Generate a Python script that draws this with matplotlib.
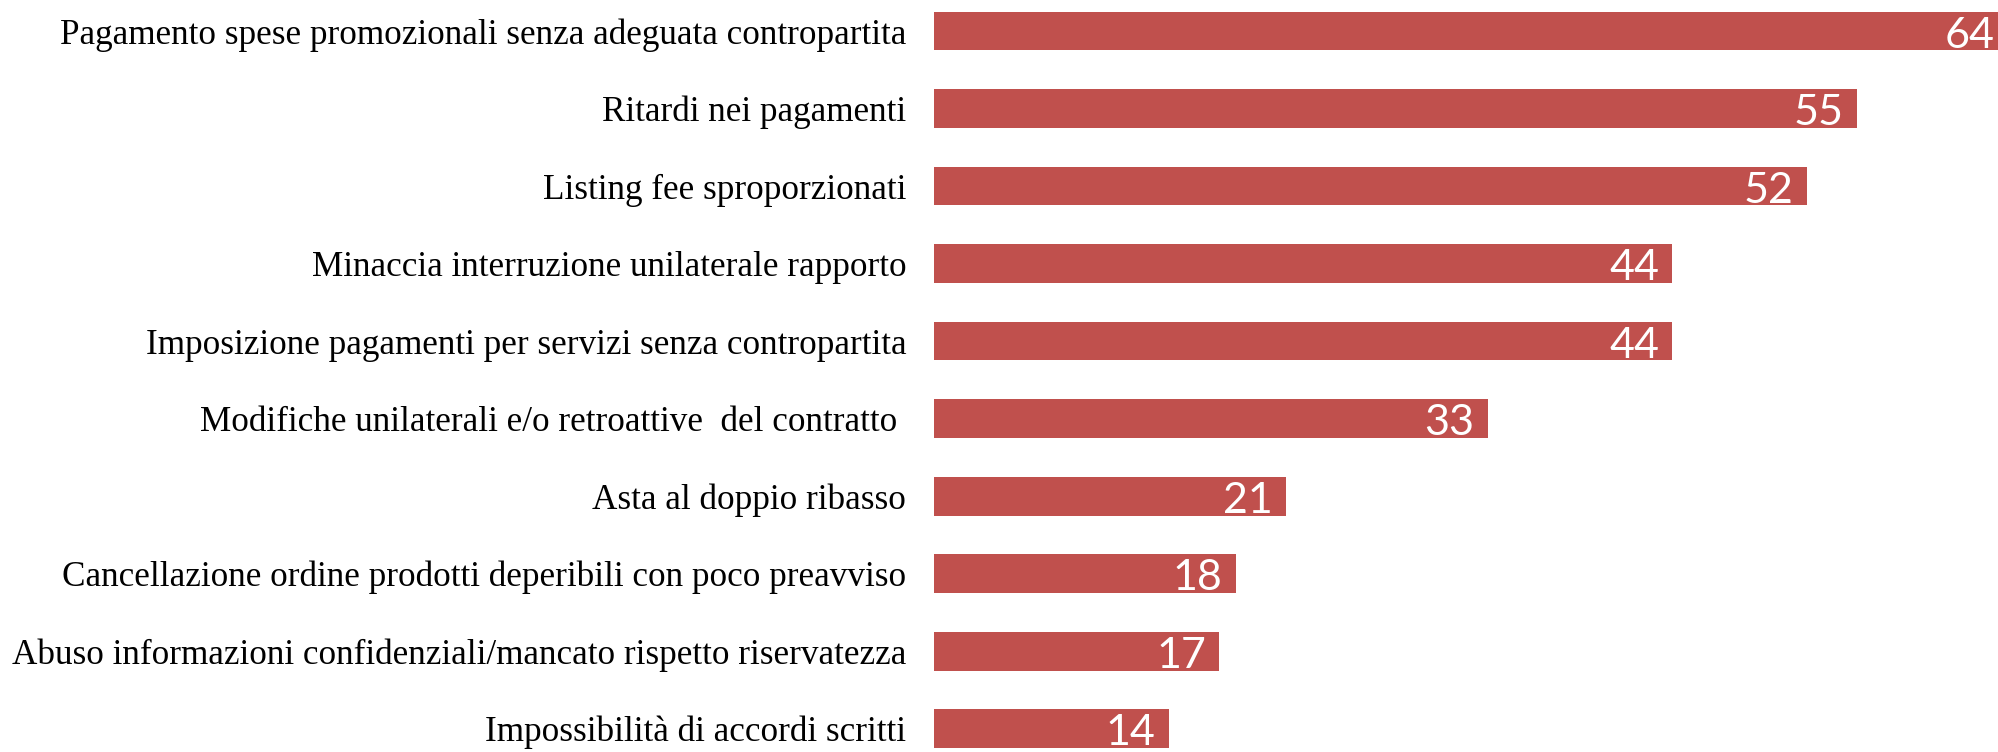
import matplotlib
matplotlib.use("Agg")
import matplotlib.pyplot as plt

categories = [
    "Pagamento spese promozionali senza adeguata contropartita",
    "Ritardi nei pagamenti",
    "Listing fee sproporzionati",
    "Minaccia interruzione unilaterale rapporto",
    "Imposizione pagamenti per servizi senza contropartita",
    "Modifiche unilaterali e/o retroattive  del contratto ",
    "Asta al doppio ribasso",
    "Cancellazione ordine prodotti deperibili con poco preavviso",
    "Abuso informazioni confidenziali/mancato rispetto riservatezza",
    "Impossibilità di accordi scritti",
]
values = [64, 55, 52, 44, 44, 33, 21, 18, 17, 14]

fig = plt.figure(figsize=(19.98, 7.52), dpi=100)
ax = fig.add_axes([934 / 1998, 0, 1 - 934 / 1998, 1])
pos = list(range(len(values)))
ax.barh(pos, values, height=0.5, color="#C0504D")
ax.set_xlim(0, 63.4)
ax.set_ylim(9.3, -0.40)
for s in ax.spines.values():
    s.set_visible(False)
ax.set_xticks([])
ax.set_yticks(pos)
ax.set_yticklabels(categories, fontfamily="Liberation Serif", fontsize=25.3)
ax.tick_params(axis="y", length=0, pad=20)
for p, v in zip(pos, values):
    ax.text(v - 0.8, p + 0.06, str(v), ha="right", va="center", color="white",
            fontsize=31, fontfamily="Lato", fontweight="normal", clip_on=False)

fig.savefig("out.png", dpi=100)
